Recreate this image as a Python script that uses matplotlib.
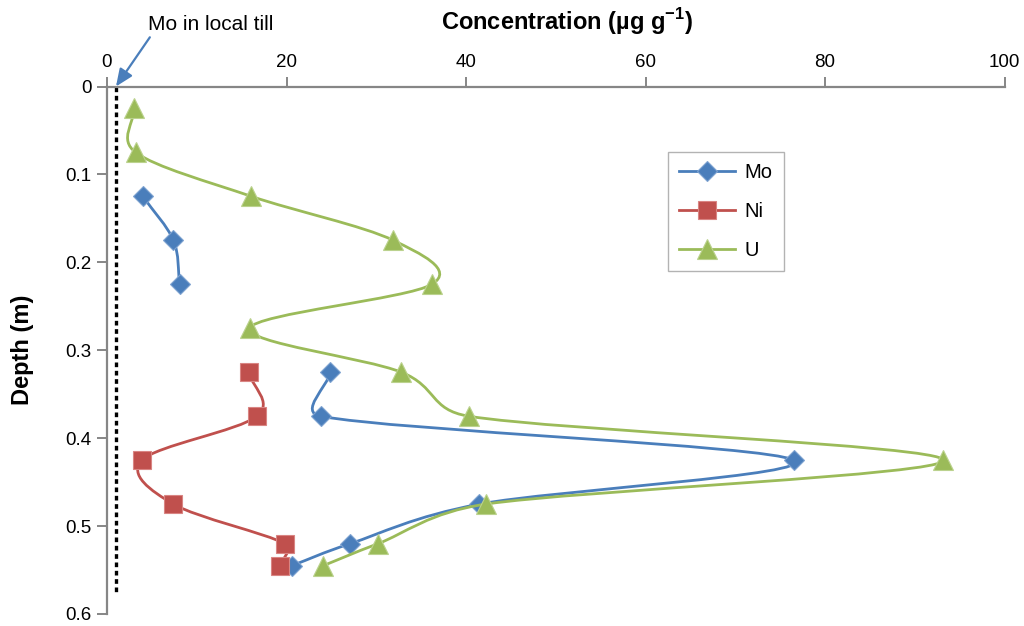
import numpy as np
import matplotlib
matplotlib.use("Agg")
import matplotlib.pyplot as plt
from matplotlib.path import Path
from matplotlib.patches import PathPatch
from matplotlib.lines import Line2D

plt.rcParams['font.family'] = ['Liberation Sans', 'DejaVu Sans']
plt.rcParams['mathtext.fontset'] = 'custom'
plt.rcParams['mathtext.rm'] = 'Liberation Sans'
plt.rcParams['mathtext.bf'] = 'Liberation Sans:bold'

# Depth profiles (depth in m, concentration in µg/g); NaN breaks a series
mo_depth = [0.125, 0.175, 0.225, np.nan, 0.325, 0.375, 0.425, 0.475, 0.52, 0.545]
mo_conc = [4.0, 7.4, 8.1, np.nan, 24.9, 23.8, 76.5, 41.5, 27.1, 20.6]

ni_depth = [0.325, 0.375, 0.425, 0.475, 0.52, 0.545]
ni_conc = [15.8, 16.7, 3.9, 7.4, 19.8, 19.3]

u_depth = [0.025, 0.075, 0.125, 0.175, 0.225, 0.275, 0.325, 0.375, 0.425, 0.475, 0.52, 0.545]
u_conc = [3.0, 3.2, 16.1, 31.9, 36.2, 15.9, 32.8, 40.3, 93.2, 42.2, 30.2, 24.1]

till_mo = 1.0
till_depth = [0.0, 0.578]

x_ticks = [0, 20, 40, 60, 80, 100]
y_ticks = [0, 0.1, 0.2, 0.3, 0.4, 0.5, 0.6]

series = [
    ("Mo", mo_conc, mo_depth, "#4A7EBB", "#7FA3D1", "D", 9.8),
    ("Ni", ni_conc, ni_depth, "#C0504D", "#D98583", "s", 13.5),
    ("U", u_conc, u_depth, "#9BBB59", "#BBD28E", "^", 14.0),
]


def smooth_path(xs, ys, ax):
    """Smoothed cubic Bezier through the points; control arms are computed in
    display space and capped at half the segment length."""
    data = np.column_stack([xs, ys]).astype(float)
    pts = ax.transData.transform(data)
    n = len(pts)
    verts = [pts[0]]
    codes = [Path.MOVETO]
    for i in range(n - 1):
        p1 = pts[i]
        p2 = pts[i + 1]
        p0 = pts[i - 1] if i > 0 else p1
        p3 = pts[i + 2] if i + 2 < n else p2
        d02 = np.hypot(*(p2 - p0))
        d12 = np.hypot(*(p2 - p1))
        d13 = np.hypot(*(p3 - p1))
        f = 1 / 3 if i == 0 else 1 / 6
        g = 1 / 3 if i + 2 >= n else 1 / 6
        if d02 * f > d12 / 2:
            f = d12 / (2 * d02)
        if d13 * g > d12 / 2:
            g = d12 / (2 * d13)
        c1 = p1 + f * (p2 - p0)
        c2 = p2 - g * (p3 - p1)
        verts += [c1, c2, p2]
        codes += [Path.CURVE4] * 3
    verts = ax.transData.inverted().transform(np.array(verts))
    return Path(verts, codes)


def runs(xs, ys):
    xs = np.asarray(xs, float)
    ys = np.asarray(ys, float)
    ok = ~(np.isnan(xs) | np.isnan(ys))
    out, cur = [], []
    for i in range(len(xs)):
        if ok[i]:
            cur.append(i)
        elif cur:
            out.append(cur)
            cur = []
    if cur:
        out.append(cur)
    return [(xs[r], ys[r]) for r in out]


fig = plt.figure(figsize=(10.24, 6.26), dpi=100)
ax = fig.add_axes([107 / 1024, 1 - 614 / 626, (1004.5 - 107) / 1024, (614 - 86.5) / 626])

ax.set_xlim(0, 100)
ax.set_ylim(0.6, 0)
ax.xaxis.tick_top()
ax.xaxis.set_label_position('top')
ax.set_xticks(x_ticks)
ax.set_yticks(y_ticks)
ax.set_xticklabels([str(t) for t in x_ticks])
ax.set_yticklabels(["0", "0.1", "0.2", "0.3", "0.4", "0.5", "0.6"])
for s in ("right", "bottom"):
    ax.spines[s].set_visible(False)
for s in ("top", "left"):
    ax.spines[s].set_color("#868686")
    ax.spines[s].set_linewidth(1.6)
ax.tick_params(axis='both', colors="#868686", length=7, width=1.4, labelsize=13.5,
               labelcolor="black", pad=4)

# Local till reference line
ax.plot([till_mo, till_mo], till_depth, color="black", lw=2.4,
        linestyle=(0, (1.4, 1.1)), zorder=2)

handles = []
for z, (name, xs, ys, col, edge, mk, ms) in enumerate(series):
    for rx, ry in runs(xs, ys):
        ax.add_patch(PathPatch(smooth_path(rx, ry, ax), fill=False, edgecolor=col,
                               lw=2.0, zorder=3 + 2 * z))
    ax.plot(xs, ys, linestyle="none", marker=mk, ms=ms, color=col,
            markeredgecolor=edge, markeredgewidth=0.8, zorder=4 + 2 * z)
    handles.append(Line2D([], [], color=col, lw=2.0, marker=mk, ms=ms,
                          markeredgecolor=edge, markeredgewidth=0.8, label=name))

leg = ax.legend(handles=handles, loc="upper left",
                bbox_to_anchor=(668 / 1024, 1 - 152 / 626),
                bbox_transform=fig.transFigure, fontsize=14.5, frameon=True,
                fancybox=False, edgecolor="#A0A0A0", borderpad=0.55,
                labelspacing=1.0, handlelength=2.8, handletextpad=0.45,
                borderaxespad=0)
leg.get_frame().set_linewidth(1.0)

fig.text(567 / 1024, 1 - 22 / 626, r"Concentration (µg g$^{\mathbf{-1}}$)",
         ha="center", va="center", fontsize=17, fontweight="bold")
fig.text(22 / 1024, 1 - 350 / 626, "Depth (m)", ha="center", va="center",
         rotation=90, fontsize=17, fontweight="bold")

ax.annotate("Mo in local till", xy=(till_mo, 0.0), xycoords="data",
            xytext=(148 / 1024, 1 - 25 / 626), textcoords="figure fraction",
            ha="left", va="center", fontsize=15,
            arrowprops=dict(arrowstyle="-|>,head_length=0.7,head_width=0.3",
                            color="#4A7EBB", lw=1.6, shrinkA=0, shrinkB=0,
                            relpos=(0.03, 0.0)),
            annotation_clip=False)

fig.savefig("out.png", dpi=100)
